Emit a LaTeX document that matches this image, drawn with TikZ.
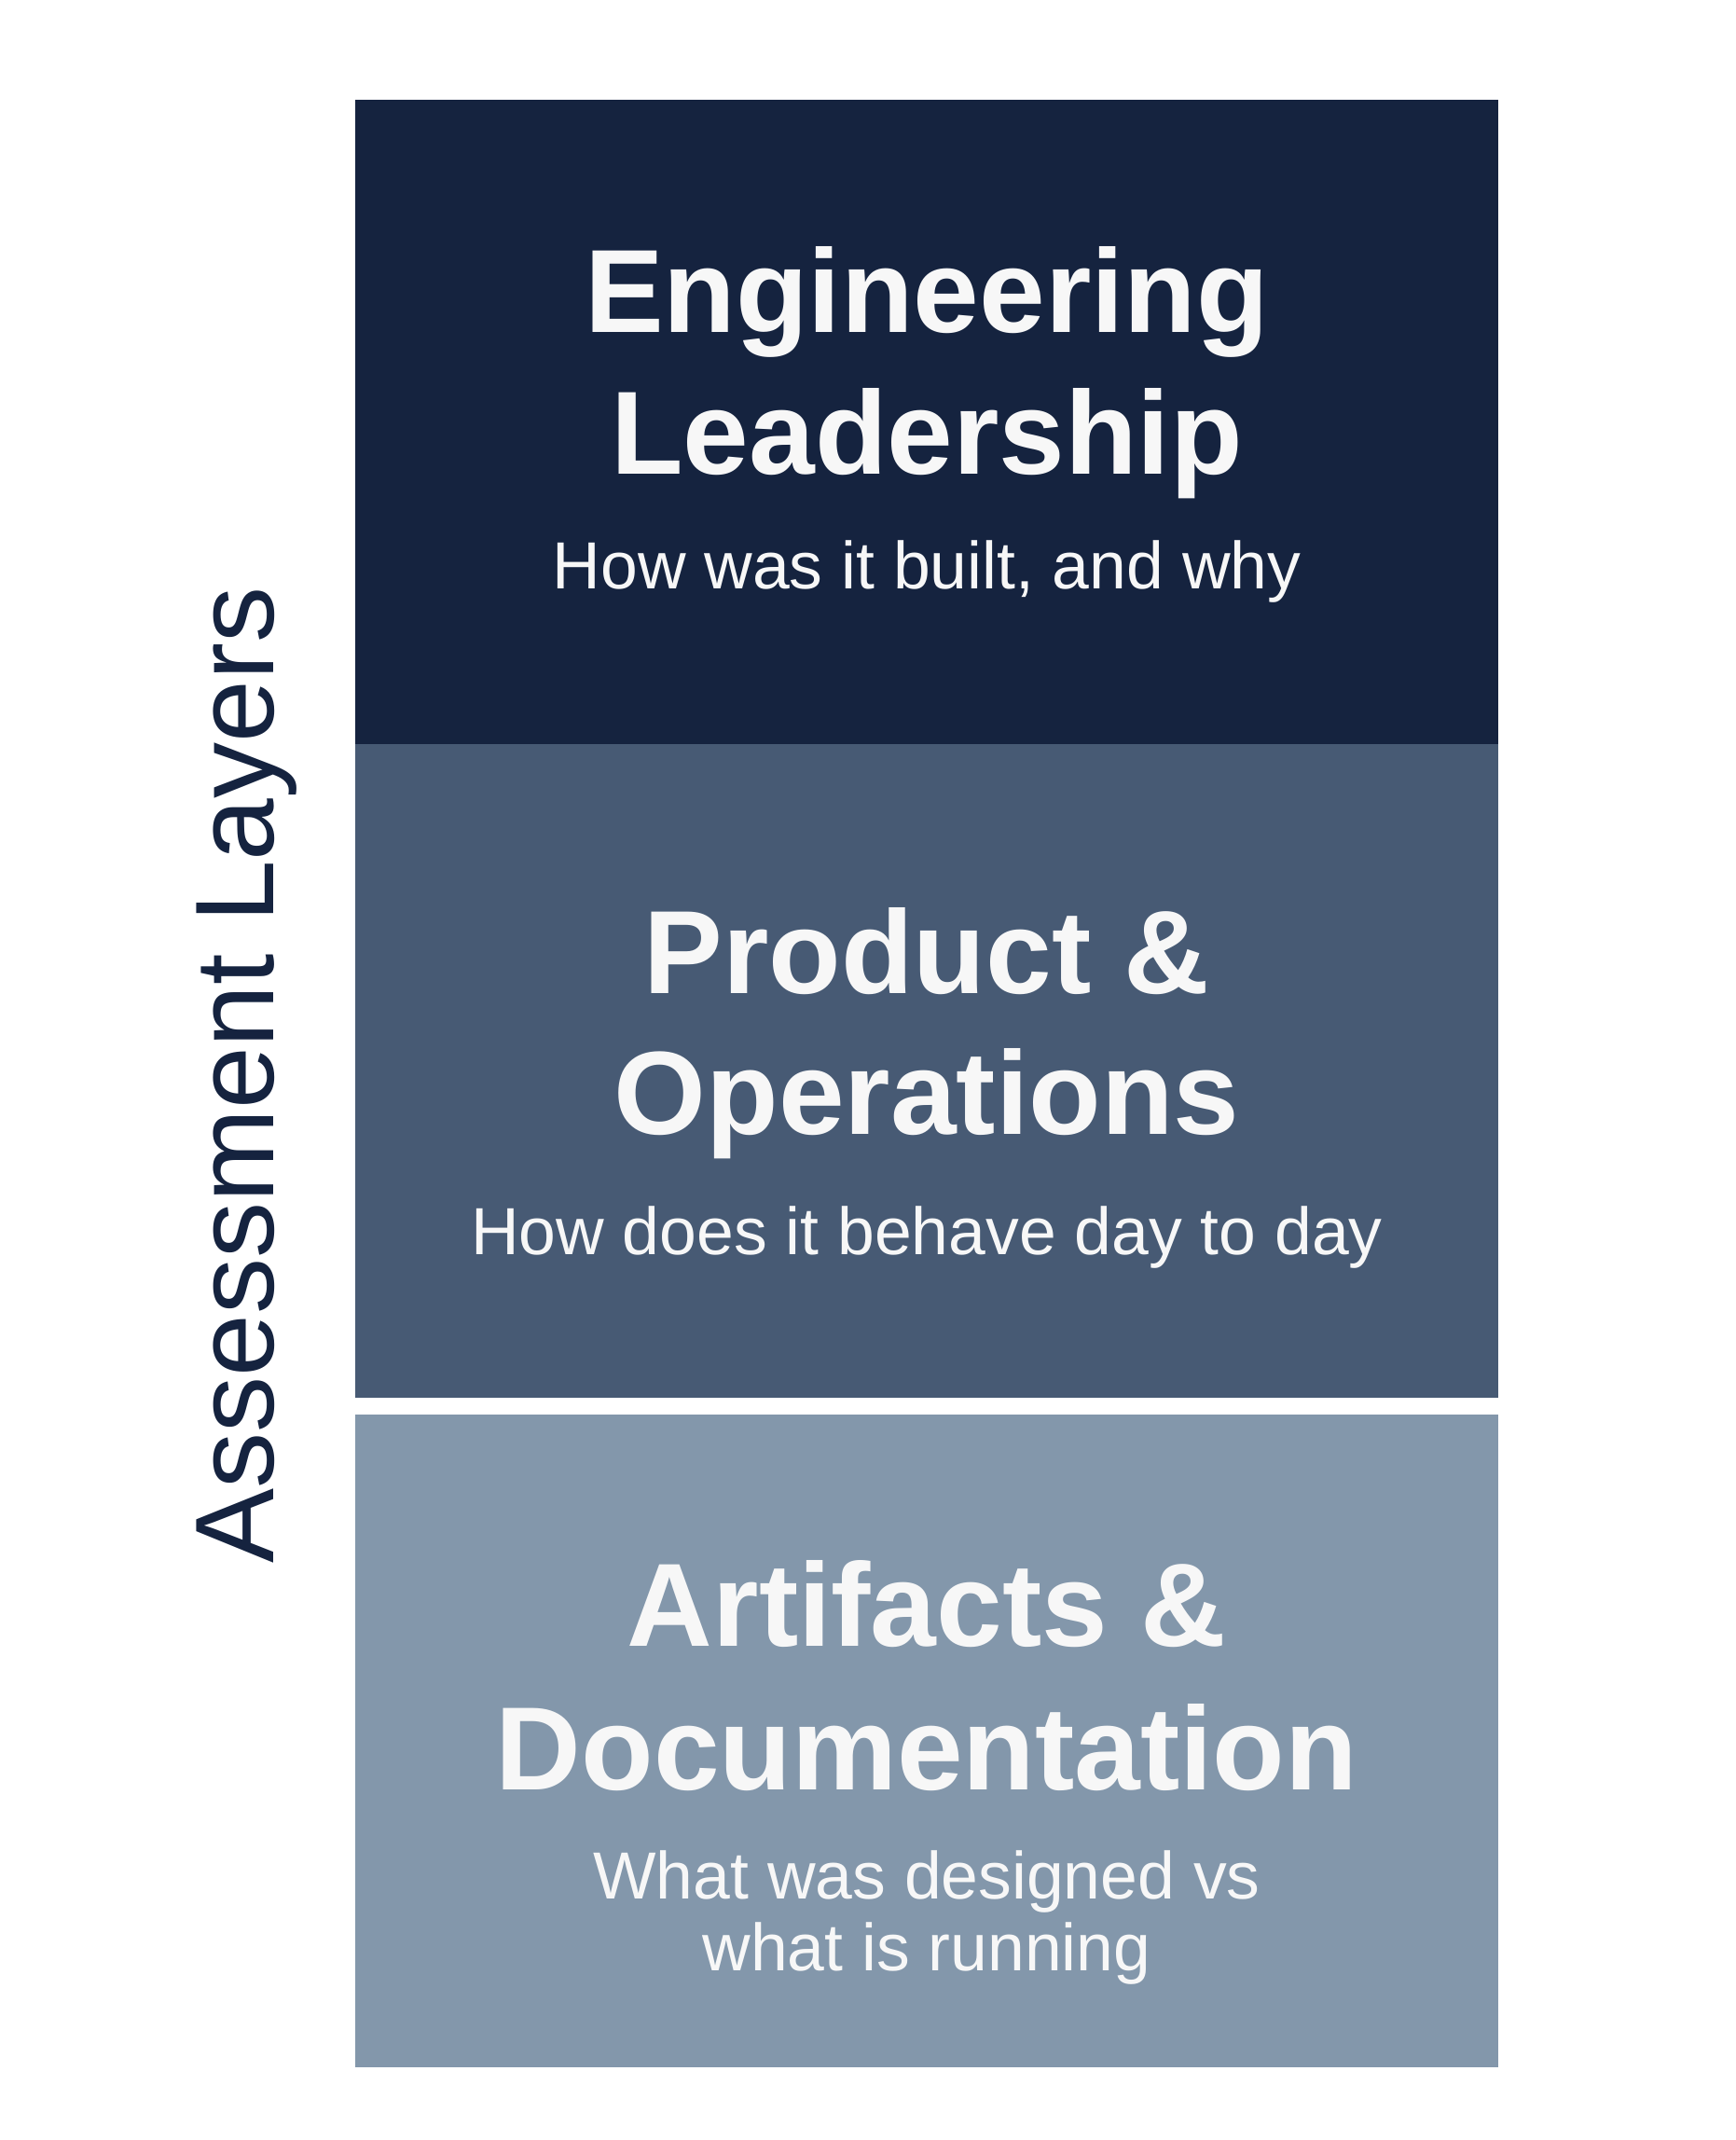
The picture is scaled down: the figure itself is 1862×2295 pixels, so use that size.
\documentclass[tikz,border=0pt]{standalone}
\usepackage{fontspec}
\setmainfont{Liberation Sans}
\definecolor{navy}{HTML}{15233F}
\definecolor{slate}{HTML}{475A74}
\definecolor{steel}{HTML}{8397AB}
\definecolor{offwhite}{HTML}{F7F7F7}
\begin{document}
\begin{tikzpicture}[x=1pt,y=-1pt,
  title/.style={text=offwhite,font=\fontsize{127}{150}\selectfont\bfseries,anchor=base,inner sep=0pt},
  sub/.style={text=offwhite,font=\fontsize{71.5}{85}\selectfont,anchor=base,inner sep=0pt},
  side/.style={text=navy,font=\fontsize{120}{140}\selectfont,anchor=base,inner sep=0pt,rotate=90}]
\fill[white] (0,0) rectangle (1862,2295);
\useasboundingbox (0,0) rectangle (1862,2295);
% layers
\fill[navy]  (381,107)  rectangle (1607,798);
\fill[slate] (381,798)  rectangle (1607,1499);
\fill[steel] (381,1517) rectangle (1607,2217);
% top layer
\node[title] (eng)  at (994,356) {Engineering};
\node[title] (lead) at (994,508) {Leadership};
\node[sub]   (eq)   at (994,631) {How was it built, and why};
% middle layer
\node[title] (prod) at (994,1065) {Product \&};
\node[title] (ops)  at (994,1216) {Operations};
\node[sub]   (oq)   at (994,1345) {How does it behave day to day};
% bottom layer
\node[title] (art)  at (994,1765) {Artifacts \&};
\node[title] (doc)  at (994,1919) {Documentation};
\node[sub]   (aq1)  at (994,2036) {What was designed vs};
\node[sub]   (aq2)  at (994,2113) {what is running};
% side label
\node[side] (lbl) at (293,1153) {Assessment Layers};
\end{tikzpicture}
\end{document}
